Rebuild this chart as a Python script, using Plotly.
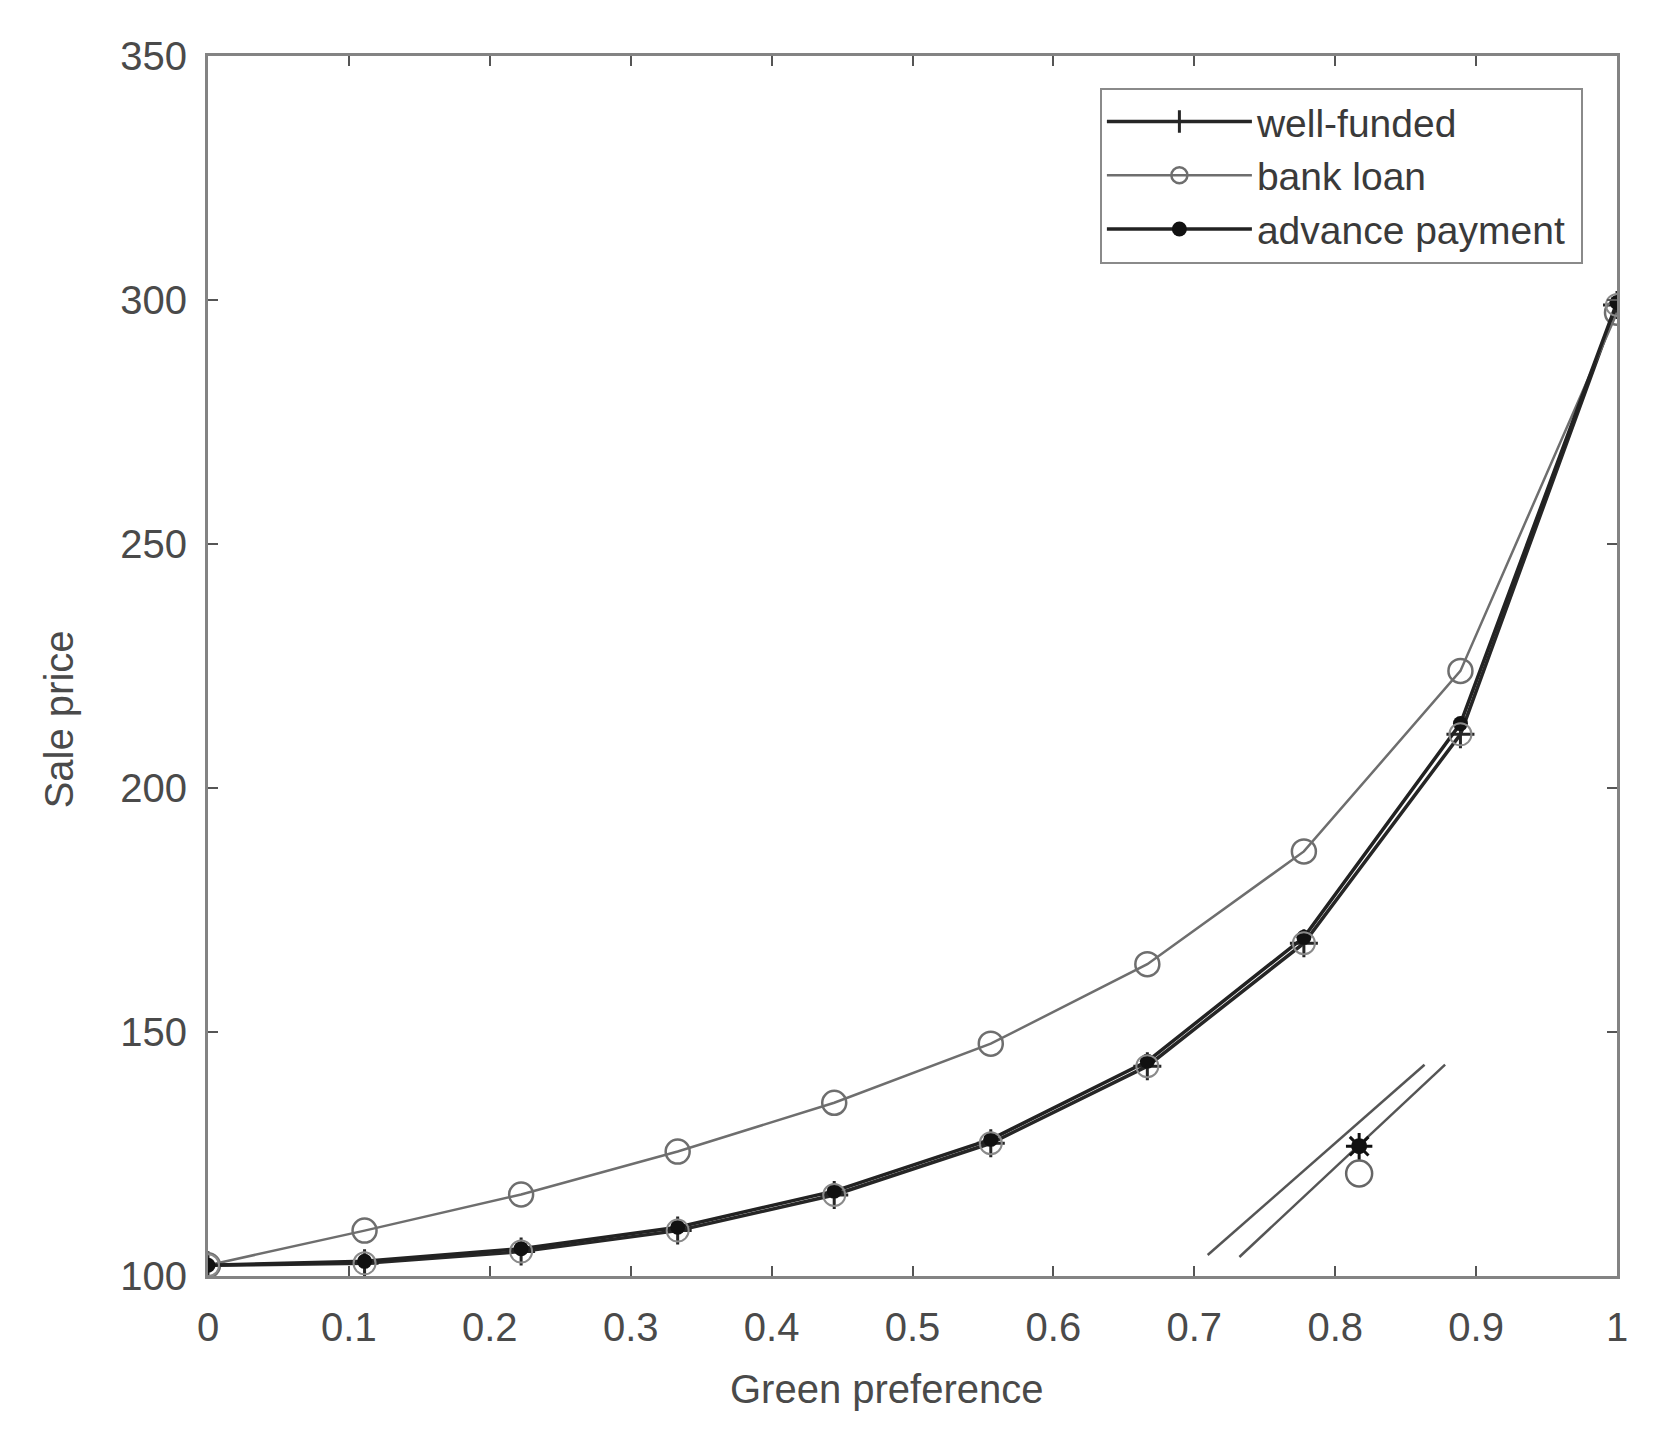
import plotly.graph_objects as go

# Data
green_pref = [0, 1/9, 2/9, 3/9, 4/9, 5/9, 6/9, 7/9, 8/9, 1]
well_funded = [102.2, 102.6, 105.0, 109.3, 116.6, 127.2, 143.0, 168.2, 211.0, 299.0]
bank_loan = [102.2, 109.3, 116.7, 125.5, 135.5, 147.6, 163.9, 187.0, 224.0, 297.4]
advance_payment = [102.2, 103.0, 105.6, 110.0, 117.4, 128.0, 144.0, 169.4, 213.2, 299.5]

# stray fragment near x=0.8
stray_a_x = [0.7095, 0.8634]
stray_a_y = [104.3, 143.3]
stray_b_x = [0.732, 0.878]
stray_b_y = [103.9, 143.3]
stray_pt_x = [0.817]
stray_star_y = [126.6]
stray_circ_y = [121.0]

x_ticks = [0, 0.1, 0.2, 0.3, 0.4, 0.5, 0.6, 0.7, 0.8, 0.9, 1]
x_tick_text = ["0", "0.1", "0.2", "0.3", "0.4", "0.5", "0.6", "0.7", "0.8", "0.9", "1"]
y_ticks = [100, 150, 200, 250, 300, 350]

FONT = "Liberation Sans, Arial, sans-serif"
TXT = "#4a4a4a"

fig = go.Figure()

fig.add_trace(go.Scatter(
    x=green_pref, y=well_funded, name="well-funded ", mode="lines+markers",
    legendgroup="a",
    line=dict(color="#262626", width=3.5),
    marker=dict(symbol="cross-thin-open", size=20, line=dict(color="#222222", width=3)),
))
fig.add_trace(go.Scatter(
    x=green_pref, y=bank_loan, name="bank loan", mode="lines+markers",
    legendgroup="b",
    line=dict(color="#6e6e6e", width=2.5),
    marker=dict(symbol="circle-open", size=24, color="#6e6e6e", line=dict(color="#6e6e6e", width=2.5)),
))
fig.add_trace(go.Scatter(
    x=green_pref, y=advance_payment, name="advance payment ", mode="lines+markers",
    legendgroup="c",
    line=dict(color="#222222", width=3.5),
    marker=dict(symbol="circle", size=15, color="#111111"),
))
# faint circles overlapping lower curve
fig.add_trace(go.Scatter(
    x=green_pref, y=well_funded, mode="markers", showlegend=False, hoverinfo="skip",
    marker=dict(symbol="circle-open", size=22, color="#8a8a8a", line=dict(color="#8a8a8a", width=2)),
))

# stray fragment
for sx, sy in ((stray_a_x, stray_a_y), (stray_b_x, stray_b_y)):
    fig.add_trace(go.Scatter(x=sx, y=sy, mode="lines", showlegend=False, hoverinfo="skip",
                             line=dict(color="#555555", width=2.5)))
fig.add_trace(go.Scatter(x=stray_pt_x, y=stray_circ_y, mode="markers", showlegend=False,
                         marker=dict(symbol="circle-open", size=26, color="#666666",
                                     line=dict(color="#666666", width=2.5))))
fig.add_trace(go.Scatter(x=stray_pt_x, y=stray_star_y, mode="markers", showlegend=False,
                         marker=dict(symbol="circle", size=16, color="#111111")))
fig.add_trace(go.Scatter(x=stray_pt_x, y=stray_star_y, mode="markers", showlegend=False,
                         marker=dict(symbol="asterisk-open", size=22, color="#111111",
                                     line=dict(color="#111111", width=3))))

axis_common = dict(
    showgrid=False, zeroline=False, showline=True, linecolor="#838383", linewidth=3,
    mirror="ticks", ticks="inside", ticklen=10, tickwidth=2, tickcolor="#555555",
    tickfont=dict(family=FONT, size=40, color=TXT),
)

fig.update_xaxes(range=[0, 1], tickvals=x_ticks, ticktext=x_tick_text,
                 ticklabelstandoff=14, **axis_common)
fig.update_yaxes(range=[100, 350], tickvals=y_ticks, ticklabelstandoff=10, **axis_common)

fig.update_layout(
    width=1660, height=1447,
    margin=dict(l=200, r=51, t=48, b=179),
    paper_bgcolor="white", plot_bgcolor="white",
    font=dict(family=FONT, color=TXT),
    legend=dict(
        x=0.633, y=0.974, xanchor="left", yanchor="top",
        bgcolor="white", bordercolor="#8a8a8a", borderwidth=2,
        font=dict(family=FONT, size=39, color="#3a3a3a"),
        itemwidth=145, tracegroupgap=0, traceorder="grouped",
    ),
    annotations=[
        dict(text="Green preference", xref="paper", yref="paper", x=0.482, y=-0.093,
             xanchor="center", yanchor="middle", showarrow=False,
             font=dict(family=FONT, size=40, color=TXT)),
        dict(text="Sale price", xref="paper", yref="paper", x=-0.106, y=0.456,
             xanchor="center", yanchor="middle", showarrow=False, textangle=-90,
             font=dict(family=FONT, size=40, color=TXT)),
    ],
)

fig.write_html("out.html")
